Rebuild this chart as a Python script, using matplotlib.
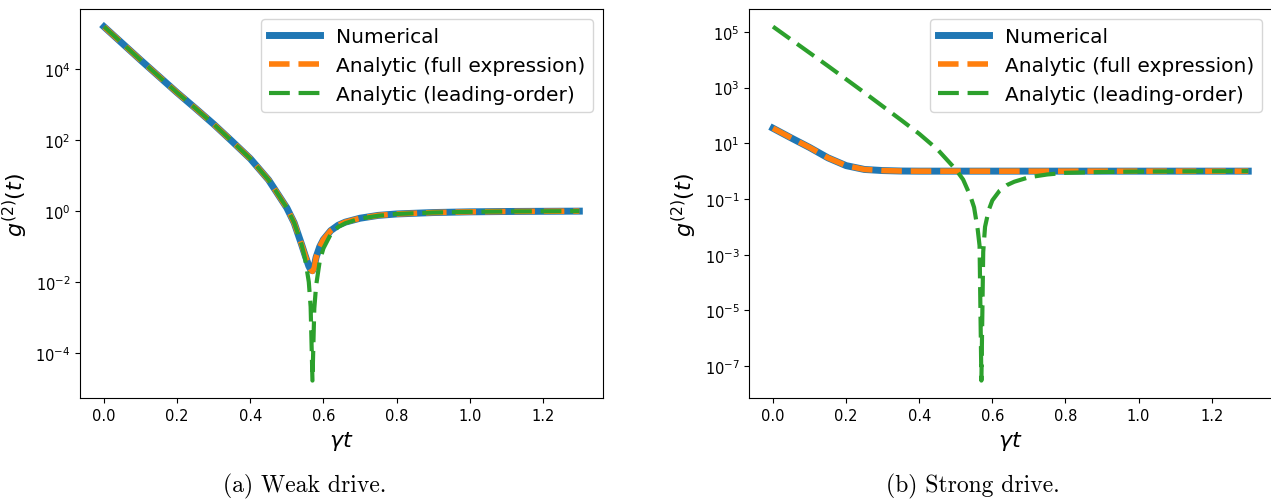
import numpy as np
import matplotlib
matplotlib.use('Agg')
import matplotlib.pyplot as plt
from matplotlib.ticker import NullLocator

# time grid (gamma t) shared by all curves
t = [0.0, 0.05, 0.1, 0.15, 0.2, 0.25, 0.3, 0.35, 0.4, 0.45, 0.5, 0.52, 0.54,
     0.55, 0.56, 0.565, 0.57, 0.575, 0.58, 0.59, 0.6, 0.62, 0.64, 0.66, 0.7,
     0.75, 0.8, 0.9, 1.0, 1.1, 1.2, 1.3]

# (a) weak drive
weak_numerical = [1.58e5, 5.37e4, 1.82e4, 6.31e3, 2.19e3, 794, 282, 93.3, 30.2,
                  7.59, 1.23, 0.468, 0.117, 0.0562, 0.0282, 0.0224, 0.0209,
                  0.0282, 0.0501, 0.100, 0.158, 0.282, 0.398, 0.490, 0.631,
                  0.759, 0.832, 0.912, 0.955, 0.977, 0.989, 1.0]
weak_full = [1.58e5, 5.37e4, 1.82e4, 6.31e3, 2.19e3, 794, 282, 93.3, 30.2,
             7.59, 1.23, 0.468, 0.117, 0.0562, 0.0282, 0.0224, 0.0200,
             0.0251, 0.0501, 0.100, 0.158, 0.282, 0.398, 0.490, 0.631,
             0.759, 0.832, 0.912, 0.955, 0.977, 0.989, 1.0]
weak_leading = [1.6e5, 5.37e4, 1.82e4, 6.31e3, 2.19e3, 794, 282, 93.3, 30.2,
                7.59, 1.23, 0.468, 0.117, 0.0447, 0.0100, 0.0020, 1.66e-5,
                0.00178, 0.00794, 0.0398, 0.0891, 0.224, 0.355, 0.457, 0.617,
                0.741, 0.832, 0.912, 0.955, 0.977, 0.989, 1.0]

# (b) strong drive
strong_numerical = [34.7, 15.5, 7.08, 3.02, 1.58, 1.15, 1.05, 1.01, 1.0, 1.0,
                    1.0, 1.0, 1.0, 1.0, 1.0, 1.0, 1.0, 1.0, 1.0, 1.0, 1.0, 1.0,
                    1.0, 1.0, 1.0, 1.0, 1.0, 1.0, 1.0, 1.0, 1.0, 1.0]
strong_full = [34.7, 15.5, 7.08, 3.02, 1.58, 1.15, 1.05, 1.01, 1.0, 1.0,
               1.0, 1.0, 1.0, 1.0, 1.0, 1.0, 1.0, 1.0, 1.0, 1.0, 1.0, 1.0,
               1.0, 1.0, 1.0, 1.0, 1.0, 1.0, 1.0, 1.0, 1.0, 1.0]
strong_leading = [1.55e5, 5.25e4, 1.78e4, 6.03e3, 2.0e3, 661, 214, 69.2, 21.9,
                  6.0, 1.15, 0.5, 0.126, 0.05, 0.0079, 0.0021, 3.0e-8,
                  0.00126, 0.01, 0.0398, 0.0891, 0.2, 0.316, 0.417, 0.603,
                  0.759, 0.871, 0.933, 0.966, 0.982, 0.991, 1.0]

yticks_weak = [1e-4, 1e-2, 1e0, 1e2, 1e4]
yticks_strong = [1e-7, 1e-5, 1e-3, 1e-1, 1e1, 1e3, 1e5]

fig = plt.figure(figsize=(12.71, 5.02), dpi=100)
ax1 = fig.add_axes([0.0632, 0.2046, 0.4113, 0.7756])
ax2 = fig.add_axes([0.5895, 0.2046, 0.4113, 0.7756])

panels = [
    (ax1, weak_numerical, weak_full, weak_leading, yticks_weak),
    (ax2, strong_numerical, strong_full, strong_leading, yticks_strong),
]
for ax, num, full, lead, yt in panels:
    ax.plot(t, num, color='#1f77b4', lw=5, label='Numerical')
    ax.plot(t, full, color='#ff7f0e', lw=4, ls='--', label='Analytic (full expression)')
    ax.plot(t, lead, color='#2ca02c', lw=3, ls=(0, (5, 2.1)),
            label='Analytic (leading-order)')
    ax.set_yscale('log')
    ax.set_yticks(yt)
    ax.yaxis.set_minor_locator(NullLocator())
    ax.set_xticks([0.0, 0.2, 0.4, 0.6, 0.8, 1.0, 1.2])
    ax.tick_params(labelsize=10.5)
    ax.set_xlabel(r'$\gamma t$', fontsize=16)
    ax.set_ylabel(r'$g^{(2)}(t)$', fontsize=16)
    ax.legend(loc='upper right', fontsize=14.5, handlelength=2.5)

fig.text(0.240, 0.030, '(a) Weak drive.', ha='center', va='center',
         family='cmr10', fontsize=17)
fig.text(0.7655, 0.030, '(b) Strong drive.', ha='center', va='center',
         family='cmr10', fontsize=17)

fig.savefig('out.png', dpi=100)
